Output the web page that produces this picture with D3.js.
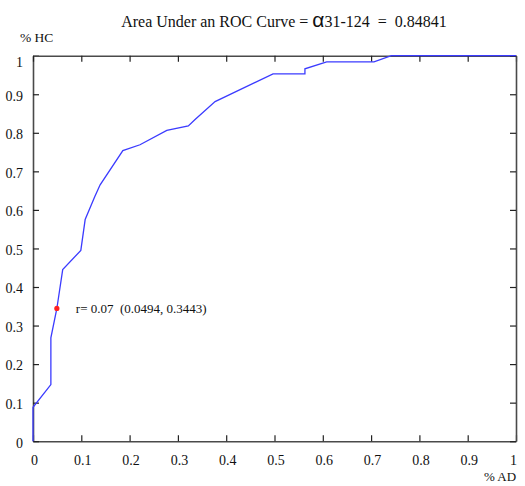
<!DOCTYPE html>
<html>
<head>
<meta charset="utf-8">
<script src="https://cdn.jsdelivr.net/npm/d3@7"></script>
<style>
  body { margin: 0; background: #fff; }
  text { font-family: "Liberation Serif", "Times New Roman", serif; fill: #111; }
</style>
</head>
<body>
<div id="roc"></div>
<script>
// ROC curve points
var fpr = [0, 0, 0.037, 0.037, 0.0494, 0.0615, 0.099, 0.108, 0.128, 0.139, 0.186, 0.2215, 0.277, 0.3216, 0.335, 0.377, 0.497, 0.563, 0.563, 0.608, 0.706, 0.742, 1];
var tpr = [0, 0.088, 0.147, 0.268, 0.3443, 0.445, 0.495, 0.575, 0.635, 0.665, 0.754, 0.769, 0.806, 0.818, 0.834, 0.881, 0.953, 0.953, 0.966, 0.984, 0.984, 1, 1];
var ticks = [0, 0.1, 0.2, 0.3, 0.4, 0.5, 0.6, 0.7, 0.8, 0.9, 1];
var marked = {x: 0.0494, y: 0.3443, r: 0.07};
var auc = "0.84841";

var margin = {top: 55.7, right: 9, bottom: 44.8, left: 33},
	width = 525 - margin.left - margin.right,
	height = 486 - margin.top - margin.bottom;

var svg = d3.select("#roc")
	.append("svg")
	.attr("width", 525)
	.attr("height", 486);

var g = svg.append("g")
	.attr("transform", "translate(" + margin.left + "," + margin.top + ")");

var x = d3.scaleLinear().domain([0, 1]).range([0, width]);
var y = d3.scaleLinear().domain([0, 1]).range([height, 0]);

var fmt = d => d === 0 || d === 1 ? d3.format("d")(d) : d3.format(".1f")(d);

// bottom axis with labels
var xAxis = g.append("g")
	.attr("transform", "translate(0," + height + ")")
	.call(d3.axisBottom(x).tickValues(ticks).tickFormat(fmt).tickSizeInner(-6).tickSizeOuter(0).tickPadding(13.5));
xAxis.selectAll("text")
	.style("font-size", "14px")
	.attr("dx", d => d === 1 ? "-3px" : "1px");

// left axis with labels
var yAxis = g.append("g")
	.call(d3.axisLeft(y).tickValues(ticks).tickFormat(fmt).tickSizeInner(-6).tickSizeOuter(0).tickPadding(10));
yAxis.selectAll("text")
	.style("font-size", "14px")
	.attr("dy", d => d === 1 ? "0.75em" : "0.42em");

// top and right, ticks only
g.append("g")
	.call(d3.axisTop(x).tickValues(ticks).tickFormat("").tickSizeInner(-6).tickSizeOuter(0));
g.append("g")
	.attr("transform", "translate(" + width + ",0)")
	.call(d3.axisRight(y).tickValues(ticks).tickFormat("").tickSizeInner(-6).tickSizeOuter(0));

g.selectAll(".domain").attr("stroke", "#4a4a4a").attr("stroke-width", 1.6);
g.selectAll(".tick line").attr("stroke", "#222").attr("stroke-width", 1.2);

// curve
var line = d3.line()
	.x((d, i) => x(fpr[i]))
	.y((d, i) => y(tpr[i]));

g.append("path")
	.datum(fpr)
	.attr("fill", "none")
	.attr("stroke", "#3b3bff")
	.attr("stroke-width", 1.3)
	.attr("d", line);

// marked threshold
g.append("circle")
	.attr("cx", x(marked.x))
	.attr("cy", y(marked.y))
	.attr("r", 2.6)
	.attr("fill", "#ff2020");

g.append("text")
	.attr("x", x(marked.x) + 19)
	.attr("y", y(marked.y) + 4.5)
	.attr("xml:space", "preserve")
	.style("white-space", "pre")
	.style("font-size", "13px")
	.text("r= " + marked.r.toFixed(2) + "  (" + marked.x + ", " + marked.y + ")");

// title
var title = svg.append("text")
	.attr("x", 284)
	.attr("y", 27)
	.attr("text-anchor", "middle")
	.attr("xml:space", "preserve")
	.style("white-space", "pre")
	.style("font-size", "16px");
title.append("tspan").text("Area Under an ROC Curve = ");
title.append("tspan")
	.style("font-family", "'Liberation Sans', sans-serif")
	.style("font-size", "21px")
	.text("\u03b1");
title.append("tspan").text("31-124  =  " + auc);

// axis names
svg.append("text")
	.attr("x", 20)
	.attr("y", 42)
	.style("font-size", "13.5px")
	.text("% HC");

svg.append("text")
	.attr("x", 484)
	.attr("y", 481)
	.style("font-size", "13px")
	.text("% AD");
</script>
</body>
</html>
